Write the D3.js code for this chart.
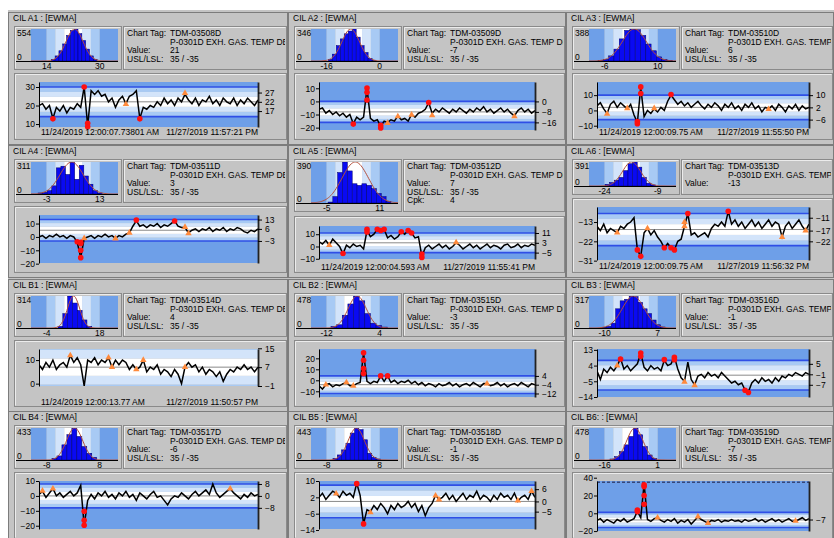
<!DOCTYPE html>
<html>
<head>
<meta charset="utf-8">
<script src="https://cdn.jsdelivr.net/npm/d3@7"></script>
<style>
  body { margin: 0; background: #fff; }
  svg { display: block; font-family: "Liberation Sans", Arial, sans-serif; }
</style>
</head>
<body>
<svg id="chart" width="834" height="538"></svg>
<script>
// ---- panel text ----
const panelNames = ['CIL A1 : [EWMA]', 'CIL A2 : [EWMA]', 'CIL A3 : [EWMA]', 'CIL A4 : [EWMA]',
  'CIL A5 : [EWMA]', 'CIL A6 : [EWMA]', 'CIL B1 : [EWMA]', 'CIL B2 : [EWMA]', 'CIL B3 : [EWMA]',
  'CIL B4 : [EWMA]', 'CIL B5 : [EWMA]', 'CIL B6: : [EWMA]'];
const chartTags = ['TDM-03508D', 'TDM-03509D', 'TDM-03510D', 'TDM-03511D', 'TDM-03512D', 'TDM-03513D',
  'TDM-03514D', 'TDM-03515D', 'TDM-03516D', 'TDM-03517D', 'TDM-03518D', 'TDM-03519D'];
// right-hand column is cut at the window edge in the reference, so only the visible part is kept there
const tagDescriptions = ['P-0301D EXH. GAS. TEMP DEV', 'P-0301D EXH. GAS. TEMP DEV', 'P-0301D EXH. GAS. TEMP'];
const tagValues = ['21', '-7', '6', '3', '7', '-13', '4', '-3', '-1', '-6', '-1', '-7'];
const specLimits = [[35, -35], [35, -35], [35, -35], [35, -35], [35, -35], null,
  [35, -35], [35, -35], [35, -35], [35, -35], [35, -35], [35, -35]];
const cpkValues = [null, null, null, null, '4', null, null, null, null, null, null, null];

// ---- control limits (LCL / UCL) shown under each histogram ----
const limits = [[14, 30], [-16, 0], [-6, 10], [-3, 13], [-5, 11], [-24, -9],
  [-4, 18], [-12, 4], [-10, 7], [-8, 8], [-8, 8], [-16, 1]];

// ---- histograms ----
const histMax = [554, 346, 388, 311, 390, 391, 314, 478, 317, 433, 443, 478];
const histStart = [15.4, -15.5, -8, -5.6, -4.6, -23.9, 0.7, -10.7, -10.8, -6.4, -6.1, -14.3];
const histStep = [1.15, 1.2, 1.6, 1.38, 1.46, 1.3, 2, 1.7, 1.44, 1.5, 1.3, 1.5];
const histCounts = [
  [29, 88, 177, 295, 442, 530, 554, 472, 354, 206, 88, 29],
  [18, 74, 166, 239, 294, 324, 346, 258, 166, 92, 29, 7],
  [8, 21, 62, 144, 268, 371, 388, 380, 310, 206, 124, 50, 21, 8],
  [10, 16, 32, 79, 254, 270, 190, 311, 143, 279, 175, 95, 32, 10],
  [9, 61, 290, 390, 305, 183, 168, 183, 168, 137, 91, 61, 15],
  [28, 56, 95, 140, 251, 363, 391, 307, 140, 45, 17],
  [16, 141, 314, 245, 173, 79, 16],
  [24, 48, 191, 359, 478, 406, 215, 72, 38, 14],
  [6, 16, 48, 190, 269, 285, 317, 311, 254, 190, 143, 79, 32, 10],
  [23, 55, 205, 342, 433, 319, 182, 91, 36],
  [23, 70, 140, 233, 373, 443, 420, 280, 93, 37, 14],
  [15, 50, 126, 226, 352, 478, 377, 201, 75, 25]
];

// ---- time series axes ----
const yDomains = [[8.4, 32.7], [-21.8, 14.8], [-11.5, 18.6], [-19.5, 16.4], [-10.2, 16.7], [-30.7, -6],
  [-1, 14.7], [-15.2, 28.5], [-14, 13.5], [-22.2, 10], [-13.5, 10], [-19.9, 36.3]];
const leftTicks = [[10, 20, 30], [-20, -10, 0, 10], [-10, 0, 10], [-20, -10, 0, 10], [-10, 0, 10], [-31, -22, -13],
  [0, 10], [-10, 0, 10, 20], [-14, -5, 4, 13], [-20, -10, 0, 10], [-14, -6, 2, 10], [-20, 0, 20, 40]];
const rightTicks = [[17, 22, 27], [-16, -8, 0], [-6, 2, 10], [-3, 6, 13], [-5, 3, 11], [-22, -17, -11],
  [-1, 7, 15], [-12, -4, 4], [-7, -1, 5], [-8, 0, 8], [-5, 0, 6], [-7]];
const dateLabels = [
  ['11/24/2019 12:00:07.73801 AM', '11/27/2019 11:57:21 PM'], null,
  ['11/24/2019 12:00:09.75 AM', '11/27/2019 11:55:50 PM'], null,
  ['11/24/2019 12:00:04.593 AM', '11/27/2019 11:55:41 PM'],
  ['11/24/2019 12:00:09.75 AM', '11/27/2019 11:56:32 PM'],
  ['11/24/2019 12:00:13.77 AM', '11/27/2019 11:50:57 PM'], null, null, null, null, null];

// ---- time series values ----
const seriesA1 = [20,21,18,20,13,19,17,20,16,19, 18,21,19,30,9,28,26,28,25,26, 22,24,19,23,25,21,25,26,28,13,
  19,18,20,19,22,20,24,21,23,20, 24,22,26,23,21,24,20,23,22,25, 21,23,20,24,22,21,24,20,23,21, 24,22,20,23];
const seriesA2 = [-6,-5,-9,-7,-10,-8,-11,-9,-12,-10, -17,-12,-14,-12,10,-13,-15,-14,-19,-15, -16,-14,-15,-11,-14,-13,-15,-10,-12,-9,
  -8,-6,-1,-9,-6,-8,-5,-7,-9,-6, -8,-5,-7,-9,-6,-8,-5,-7,-4,-8, -6,-9,-7,-5,-8,-6,-9,-11,-7,-5, -8,-6,-9,-7];
const seriesA3 = [3,5,1,-2,4,6,2,5,3,1, 4,-3,-8,15,-4,0,-2,1,-1,2, 0,6,10,7,4,6,3,5,2,4,
  6,3,1,4,2,5,3,0,4,2, 5,1,3,0,4,2,5,1,3,-1, 2,1,3,0,4,2,-1,3,1,4, 0,3,1,2];
const seriesA4 = [0,1,-1,1,0,2,0,1,-1,1, 0,-4,-15.5,-1,0,1,-1,1,0,2, 0,1,-1,1,0,2,3,8,12,8,
  9,7,9,8,10,7,9,8,10,12, 8,7,7,3,5,6,4,6,5,7, 4,6,5,7,4,6,5,7,6,4, 3,5,4,6];
const seriesA5 = [4,2,5,1,6,3,0,-6,1,-1, 2,0,1,-2,13,8,10,14,13,14, 7,9,6,8,12,10,13,11,7,8,
  -8,-1,1,-2,0,2,-1,1,-2,0, 3,1,-2,0,2,-1,1,-2,0,2, -1,1,0,-2,1,2,-1,0,2,-1, 1,0,2,1];
const seriesA6 = [-15,-17,-14,-18,-16,-17,-18,-15,-16,-14, -13,-11,-26,-29,-18,-16,-19,-17,-20,-22,
  -25,-23,-25,-26,-22,-21,-15,-9,-19,-18, -20,-19,-18,-20,-16,-14,-15,-13,-15,-8,
  -14,-12,-15,-13,-16,-14,-12,-15,-13,-16, -14,-12,-15,-13,-14,-20,-15,-13,-16,-14, -12,-15,-17,-14];
const seriesB1 = [8,6,9,7,10,6,8,9,7,12, 9,11,8,-1,10,9,11,8,10,9, 11,7,10,8,10,9,6,8,6,7,
  10,5,7,6,8,4,6,5,3,6, 4,0,7,9,7,8,5,7,4,6, 5,3,5,1,4,6,5,7,6,8, 6,7,5,7];
const seriesB2 = [-5,-8,-4,-3,-6,-4,-5,-3,-2,-5, -5,-3,-2,25,-1,-3,-1,-2,4,-1, 4,-2,0,-3,-1,-2,0,-3,-1,-4,
  -2,-5,-3,-4,-6,-3,-5,-4,-2,-5, -3,-6,-4,-3,-5,-2,-4,-6,-3,-3, -5,-4,-2,-5,-3,-6,-4,-3,-5,-2, -4,-6,-3,-4];
const seriesB3 = [1,-4,2,0,3,1,4,8,2,4, 1,3,5,11,3,1,4,2,3,1, 7,4,5,9,2,-3,-5,6,-4,-7,
  -2,-1,-3,0,-2,-1,-3,0,-2,-4, -6,-5,-7,-6,-10,-11,-6,-4,-6,-3, -5,-4,-6,-3,-5,-2,-3,-1,-2,0, -1,-2,0,-1];
const seriesB4 = [1,3,-1,2,5,0,2,-1,1,3, 0,2,7,-20,-3,1,-2,2,0,3, -1,1,-2,2,0,3,-1,1,-3,2,
  0,-2,1,3,-1,0,-3,-6,-2,0, -1,2,0,-2,1,3,0,2,4,1, 8,2,-1,1,3,5,2,0,-2,1, -1,2,0,1];
const seriesB5 = [2,4,1,3,5,4,2,5,3,4, 2,9,3,-11,-4,-5,-2,-4,-1,-3, -6,-2,-4,-1,-3,-2,0,-3,-1,-5,
  -2,-7,-3,-1,3,1,2,4,1,3, 0,2,4,1,3,2,5,1,3,2, 0,3,1,4,2,3,1,4,0,2, 3,1,5,2];
const seriesB6 = [-8,-6,-10,-7,-9,-11,-7,-9,-6,-10, -8,-6,2,-5,33,-7,-9,-6,-5,-8, -10,-7,-9,-6,-11,-8,-10,-7,-12,-8,
  -4,-7,-9,-11,-8,-9,-7,-10,-8,-9, -7,-9,-8,-10,-7,-9,-8,-6,-9,-7, -10,-8,-6,-9,-7,-10,-8,-6,-9,-9, -7,-5,-8,-6];
const series = [seriesA1, seriesA2, seriesA3, seriesA4, seriesA5, seriesA6,
  seriesB1, seriesB2, seriesB3, seriesB4, seriesB5, seriesB6];

// out-of-control (red) and warning (orange) points: [index, value]
const redPoints = [
  [[4, 12.8], [13, 30], [14, 10.4], [14, 8.5], [29, 12.8]],
  [[10, -17.3], [14, 10.2], [14, 6.9], [14, 1], [18, -18.3], [18, -20.3], [32, -0.8]],
  [[12, -7.2], [12, -8.7], [13, 15.4], [13, 11.1], [22, 10.4]],
  [[11, -3.6], [12, -5], [12, -4], [12, -10], [12, -15.5], [28, 12.6], [39, 11.9]],
  [[7, -5.7], [14, 14.1], [14, 11.9], [17, 14], [18, 13], [19, 14], [24, 12], [26, 13], [27, 11], [30, -6.2], [30, -8.9]],
  [[12, -26], [13, -29], [20, -25], [22, -25], [23, -26], [27, -9], [39, -8]],
  [],
  [[13, 25], [13, 18.3], [13, 10.7], [13, 6.1], [18, 4], [20, 4]],
  [[7, 7.8], [13, 11.2], [13, 9.3], [20, 7.4], [23, 8.7], [23, 7.4], [44, -10.1], [45, -11.4]],
  [[13, -10.3], [13, -16.3], [13, -19.7]],
  [[11, 8.7], [13, -11]],
  [[12, 3.7], [12, 1.9], [14, 31.9], [14, 30], [14, 19.9], [14, 10.1]]
];
const orangePoints = [
  [[25, 20.7], [42, 26.7]],
  [[20, -16.5], [23, -11.4], [27, -10.2], [33, -10.7], [57, -11.4]],
  [[3, -2.3], [9, 1.4], [17, 1.4], [51, 0.8]],
  [[13, -1], [22, -1.2], [26, 3.1], [42, 7.4], [43, 2.6]],
  [[3, 1.1], [40, 3.3]],
  [[6, -18], [15, -16], [26, -15], [26, -13], [55, -20], [62, -17]],
  [[9, 12], [20, 11], [21, 7], [28, 6], [30, 10], [42, 7]],
  [[2, -4], [8, -2], [10, -5], [49, -3]],
  [[6, 4], [26, -5.4], [29, -7.3]],
  [[1, 3.4], [4, 4.9], [55, 4.9]],
  [[5, 3.8], [15, -5.4], [34, 2.8], [35, 0.9], [58, 0.4], [62, 5]],
  [[18, -4.9], [30, -3.7], [33, -11.2], [59, -8.6]]
];

// ---- layout ----
const W = 834, H = 538;
const GRAY = '#c4c4c4';
const BAND = ['#ffffff', '#d3e4fa', '#a8caf4', '#6e9fe8'];
const colX = [10, 290, 568], colW = [278, 276, 266];
const rowY = [12, 145, 279, 411];
const panelH = 133;
const plotLeft = 29, plotRight = [248, 245, 241];
const FS = 8.5;

const baseLayout = {histBottom: 58, tsTop: 61, plotTop: 70, plotBottom: 118, dateY: 0};
const layoutOverride = {
  0: {plotBottom: 115, dateY: 122.5},
  2: {plotBottom: 116, dateY: 122.5},
  4: {histBottom: 67, tsTop: 71, plotTop: 81, plotBottom: 114, dateY: 124.5},
  5: {histBottom: 50, tsTop: 53, plotTop: 62, plotBottom: 115, dateY: 124},
  6: {plotBottom: 107, dateY: 125.5},
  11: {plotBottom: 120}
};

const svg = d3.select('#chart');
svg.append('rect').attr('x', 8).attr('y', 10).attr('width', W - 8).attr('height', H - 10).attr('fill', GRAY);

function bevel(g, x, y, w, h) {
  g.append('rect').attr('x', x + 0.5).attr('y', y + 0.5).attr('width', w - 1).attr('height', h - 1)
    .attr('fill', GRAY).attr('stroke', '#8a8a8a');
  g.append('path').attr('d', `M${x + 1.5},${y + h - 1.5}V${y + 1.5}H${x + w - 1.5}`)
    .attr('fill', 'none').attr('stroke', '#ececec');
}

// zone bands between the limits: 0 = centre (white) ... 3 = outside the limits
function zones(lo, hi) {
  const s = (hi - lo) / 6;
  return [[-1e9, lo, 3], [lo, lo + s, 2], [lo + s, lo + 2 * s, 1], [lo + 2 * s, hi - 2 * s, 0],
    [hi - 2 * s, hi - s, 1], [hi - s, hi, 2], [hi, 1e9, 3]];
}

function styleAxis(ga) {
  ga.attr('font-size', FS).attr('font-family', null);
  ga.selectAll('text').attr('fill', '#000');
  ga.selectAll('line').attr('stroke', '#000');
}

function drawPanel(p) {
  const col = p % 3, row = Math.floor(p / 3);
  const x0 = colX[col], y0 = rowY[row], w = colW[col];
  const L = Object.assign({}, baseLayout, layoutOverride[p] || {});
  const [lcl, ucl] = limits[p];
  const g = svg.append('g').attr('transform', `translate(${x0},${y0})`).attr('font-size', FS);

  g.append('rect').attr('x', -1.5).attr('y', 0.5).attr('width', w + 1).attr('height', panelH - 1)
    .attr('fill', 'none').attr('stroke', '#7c7c7c');
  g.append('text').attr('x', 3).attr('y', 8.5).text(panelNames[p]);

  // ---------- histogram ----------
  bevel(g, 4, 14, 108, L.histBottom - 14);
  const hTop = 17, hBot = L.histBottom - 9, hL = 21, hR = 108;
  const T = (ucl - lcl) / 0.61;
  const hx = d3.scaleLinear().domain([lcl - 0.18 * T, ucl + 0.21 * T]).range([hL, hR]);
  const hy = d3.scaleLinear().domain([0, histMax[p]]).range([hBot, hTop]);
  const hclip = 'hclip' + p;
  g.append('clipPath').attr('id', hclip).append('rect')
    .attr('x', hL).attr('y', hTop).attr('width', hR - hL).attr('height', hBot - hTop);
  const hg = g.append('g').attr('clip-path', `url(#${hclip})`);
  const [hd0, hd1] = hx.domain();
  zones(lcl, ucl).forEach(z => {
    const a = Math.max(z[0], hd0), b = Math.min(z[1], hd1);
    if (b > a) hg.append('rect').attr('x', hx(a)).attr('y', hTop).attr('width', hx(b) - hx(a))
      .attr('height', hBot - hTop).attr('fill', BAND[z[2]]);
  });
  const bins = histCounts[p].map((c, i) => ({x: histStart[p] + i * histStep[p], c}));
  hg.selectAll('.bar').data(bins).enter().append('rect')
    .attr('x', d => hx(d.x)).attr('width', d => hx(d.x + histStep[p]) - hx(d.x))
    .attr('y', d => hy(d.c)).attr('height', d => hBot - hy(d.c))
    .attr('fill', '#0a0af2').attr('stroke', '#00006a').attr('stroke-width', 0.5);
  // fitted normal curve from the binned data
  const tot = d3.sum(bins, d => d.c);
  const mean = d3.sum(bins, d => d.c * (d.x + histStep[p] / 2)) / tot;
  const sd = Math.sqrt(d3.sum(bins, d => d.c * (d.x + histStep[p] / 2 - mean) ** 2) / tot);
  const cx = d3.range(81).map(k => hd0 + k * (hd1 - hd0) / 80);
  hg.append('path')
    .attr('d', d3.line().x(v => hx(v)).y(v => hy(histMax[p] * Math.exp(-0.5 * ((v - mean) / sd) ** 2)))(cx))
    .attr('fill', 'none').attr('stroke', '#b4503c').attr('stroke-width', 1);
  g.append('line').attr('x1', 6).attr('x2', hR).attr('y1', hBot + 0.5).attr('y2', hBot + 0.5).attr('stroke', '#000');
  g.append('text').attr('x', 7).attr('y', hTop + 7).text(histMax[p]);
  g.append('text').attr('x', 7).attr('y', hBot - 1.5).text('0');
  g.selectAll('.hlab').data(limits[p]).enter().append('text')
    .attr('x', d => hx(d)).attr('y', L.histBottom - 1.5).attr('text-anchor', 'middle').text(d => d);

  // ---------- info box ----------
  bevel(g, 113, 14, w - 114, L.histBottom - 14);
  const iclip = 'iclip' + p;
  g.append('clipPath').attr('id', iclip).append('rect')
    .attr('x', 114).attr('y', 15).attr('width', w - 117).attr('height', L.histBottom - 16);
  const ig = g.append('g').attr('clip-path', `url(#${iclip})`);
  const rows = [['Chart Tag:', chartTags[p]], ['', tagDescriptions[col]], ['Value:', tagValues[p]]];
  if (specLimits[p]) rows.push(['USL/LSL:', specLimits[p][0] + ' / ' + specLimits[p][1]]);
  if (cpkValues[p]) rows.push(['Cpk:', cpkValues[p]]);
  const rowBase = [24, 32.5, 41, 49.5, 58];
  rows.forEach((r, i) => {
    ig.append('text').attr('x', 117).attr('y', rowBase[i]).text(r[0]);
    ig.append('text').attr('x', 160).attr('y', rowBase[i]).text(r[1]);
  });

  // ---------- time series ----------
  bevel(g, 4, L.tsTop, w - 5, 128 - L.tsTop);
  const pl = plotLeft, pr = plotRight[col];
  const data = series[p];
  const x = d3.scaleLinear().domain([0, data.length - 1]).range([pl, pr]);
  const y = d3.scaleLinear().domain(yDomains[p]).range([L.plotBottom, L.plotTop]);
  const [d0, d1] = y.domain();
  const tclip = 'tclip' + p;
  g.append('clipPath').attr('id', tclip).append('rect')
    .attr('x', pl).attr('y', L.plotTop).attr('width', pr - pl).attr('height', L.plotBottom - L.plotTop);
  const tg = g.append('g').attr('clip-path', `url(#${tclip})`);
  zones(lcl, ucl).forEach(z => {
    const a = Math.max(z[0], d0), b = Math.min(z[1], d1);
    if (b > a) tg.append('rect').attr('x', pl).attr('width', pr - pl)
      .attr('y', y(b)).attr('height', y(a) - y(b)).attr('fill', BAND[z[2]]);
  });
  const cl = (lcl + ucl) / 2;
  tg.append('line').attr('x1', pl).attr('x2', pr).attr('y1', y(cl)).attr('y2', y(cl))
    .attr('stroke', '#8a8a8a').attr('stroke-width', 1);
  [lcl, ucl].forEach(v => {
    if (v > d0 && v < d1) tg.append('line').attr('x1', pl).attr('x2', pr).attr('y1', y(v)).attr('y2', y(v))
      .attr('stroke', '#2f4fe6').attr('stroke-width', 1.6);
  });
  [35, -35].forEach(v => {
    if (v > d0 && v < d1) tg.append('line').attr('x1', pl).attr('x2', pr).attr('y1', y(v)).attr('y2', y(v))
      .attr('stroke', '#1a1a40').attr('stroke-width', 1).attr('stroke-dasharray', '3,2');
  });
  tg.append('path').datum(data)
    .attr('d', d3.line().x((d, i) => x(i)).y(d => y(d)))
    .attr('fill', 'none').attr('stroke', '#000').attr('stroke-width', 1.5).attr('stroke-linejoin', 'miter');

  g.selectAll('.warn').data(orangePoints[p]).enter().append('path')
    .attr('transform', d => `translate(${x(d[0])},${y(d[1])})`)
    .attr('d', d3.symbol().type(d3.symbolTriangle).size(18))
    .attr('fill', '#ff8a3c');
  g.selectAll('.ooc').data(redPoints[p]).enter().append('circle')
    .attr('cx', d => x(d[0])).attr('cy', d => y(d[1])).attr('r', 2.8)
    .attr('fill', '#ff1010');

  const gl = g.append('g').attr('transform', `translate(${pl},0)`)
    .call(d3.axisLeft(y).tickValues(leftTicks[p]).tickSize(3).tickSizeOuter(0).tickPadding(1).tickFormat(d3.format('d')));
  styleAxis(gl);
  gl.select('.domain').attr('stroke', '#000');
  const gr = g.append('g').attr('transform', `translate(${pr},0)`)
    .call(d3.axisRight(y).tickValues(rightTicks[p]).tickSize(4).tickSizeOuter(0).tickPadding(3).tickFormat(d3.format('d')));
  styleAxis(gr);
  gr.select('.domain').attr('stroke', '#222').attr('stroke-width', 1.8);

  if (dateLabels[p]) {
    g.append('text').attr('x', pl + 2).attr('y', L.dateY).text(dateLabels[p][0]);
    g.append('text').attr('x', pr).attr('y', L.dateY).attr('text-anchor', 'end').text(dateLabels[p][1]);
  }
}

d3.range(12).forEach(drawPanel);
</script>
</body>
</html>
